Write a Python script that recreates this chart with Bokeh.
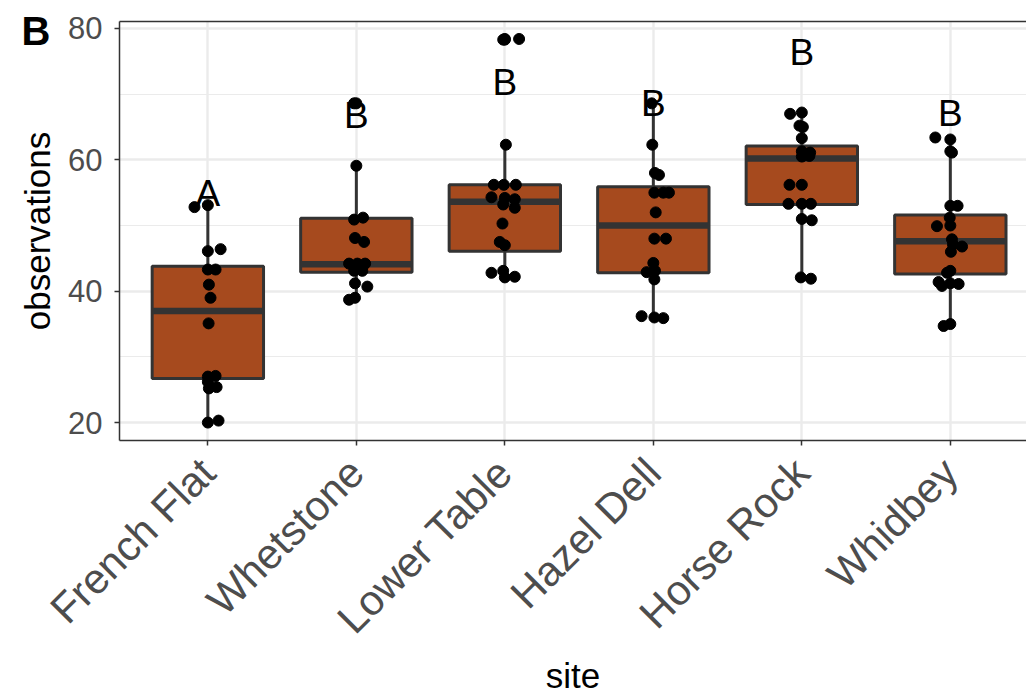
from math import pi

from bokeh.core.properties import value
from bokeh.embed import file_html
from bokeh.models import ColumnDataSource, FixedTicker, LinearAxis, Range1d
from bokeh.plotting import figure
from bokeh.resources import INLINE

# ---- data -------------------------------------------------------------
sites = ["French Flat", "Whetstone", "Lower Table", "Hazel Dell", "Horse Rock", "Whidbey"]

# boxplot summaries per site
whisker_low = [20.0, 38.7, 42.2, 36.0, 42.0, 34.8]
q1 = [26.7, 42.9, 46.1, 42.8, 53.2, 42.6]
median = [37.0, 44.1, 53.6, 50.0, 60.2, 47.6]
q3 = [43.8, 51.1, 56.2, 55.9, 62.1, 51.6]
whisker_high = [53.2, 59.1, 62.3, 68.6, 67.1, 63.2]

# outliers flagged by the boxplot (site index, value)
outlier_site = [2, 3, 3]
outlier_obs = [68.6, 78.3, 78.4]

# individual observations per site, with their horizontal jitter
obs_french_flat = [52.8, 53.1, 46.1, 46.4, 43.3, 43.3, 41.0, 39.0, 35.1, 27.0, 27.1, 26.2, 25.2, 25.4, 20.0, 20.3]
jit_french_flat = [-0.09, 0.0, 0.0, 0.086, 0.0, 0.052, 0.007, 0.018, 0.005, 0.0, 0.052, 0.0, 0.007, 0.059, 0.0, 0.072]

obs_whetstone = [68.6, 59.1, 50.9, 51.2, 48.1, 47.5, 44.2, 44.2, 44.2, 43.1, 43.1, 41.2, 40.7, 38.7, 39.0]
jit_whetstone = [-0.015, 0.0, -0.015, 0.045, -0.009, 0.052, -0.049, 0.007, 0.059, -0.015, 0.04, -0.009, 0.074, -0.049, -0.009]

obs_lower_table = [78.3, 78.4, 62.3, 56.2, 56.2, 56.2, 54.3, 54.2, 54.0, 53.2, 52.7, 50.3, 47.5, 47.0, 42.8, 43.1, 42.1, 42.2]
jit_lower_table = [-0.011, 0.096, 0.007, -0.074, -0.007, 0.074, -0.09, 0.0, 0.067, -0.011, 0.067, -0.016, -0.034, 0.0, -0.09, -0.011, 0.0, 0.067]

obs_hazel_dell = [68.6, 62.3, 58.0, 57.7, 55.0, 55.0, 55.0, 52.0, 48.0, 48.0, 44.3, 42.9, 43.1, 41.8, 36.2, 36.0, 35.9]
jit_hazel_dell = [-0.011, -0.007, 0.011, 0.038, 0.007, 0.067, 0.105, 0.016, 0.007, 0.085, 0.0, -0.045, 0.011, 0.007, -0.079, 0.007, 0.067]

obs_horse_rock = [67.0, 67.2, 65.2, 65.0, 63.3, 61.3, 61.1, 60.5, 60.6, 56.2, 56.2, 53.3, 53.3, 53.3, 51.0, 50.8, 42.1, 41.9]
jit_horse_rock = [-0.079, 0.0, -0.016, 0.007, 0.0, 0.0, 0.056, 0.0, 0.051, -0.083, 0.0, -0.09, 0.0, 0.061, 0.0, 0.067, -0.007, 0.061]

obs_whidbey = [63.4, 63.1, 61.3, 61.1, 53.0, 53.0, 51.2, 49.9, 50.0, 47.9, 47.1, 46.8, 46.0, 43.1, 42.8, 41.4, 40.8, 41.2, 41.1, 34.7, 35.0]
jit_whidbey = [-0.101, 0.0, 0.0, 0.011, 0.0, 0.049, -0.004, -0.09, 0.0, 0.011, 0.018, 0.079, 0.004, 0.0, -0.022, -0.079, -0.056, 0.0, 0.056, -0.045, 0.0]

# compact letter display (Tukey groups) and where each letter sits
group_letters = ["A", "B", "B", "B", "B", "B"]
letter_y = [54.8, 66.8, 71.8, 68.6, 76.3, 67.1]

y_ticks = [20, 40, 60, 80]
y_minor = [30, 50, 70]

# ---- styling ----------------------------------------------------------
FONT = "Liberation Sans"
BOX_FILL = "#A64A1E"
DARK = "#333333"
GRID = "#EBEBEB"
BOX_WIDTH = 0.75

x_pos = list(range(1, len(sites) + 1))

p = figure(
    width=1026, height=697,
    x_range=Range1d(0.405, 6.513), y_range=Range1d(17.27, 81.06),
    min_border_left=119, min_border_right=0, min_border_top=21, min_border_bottom=255,
    output_backend="svg", toolbar_location=None,
)
p.background_fill_color = "white"
p.border_fill_color = "white"
p.outline_line_color = None

# panel tag in the upper-left margin
p.title.text = "B"
p.title.align = "left"
p.title.vertical_align = "bottom"
p.title.offset = -98
p.title.standoff = -63
p.title.text_font = FONT
p.title.text_font_size = "40px"
p.title.text_font_style = "bold"
p.title.text_color = "black"

# grid
p.xgrid.ticker = FixedTicker(ticks=x_pos)
p.ygrid.ticker = FixedTicker(ticks=y_ticks, minor_ticks=y_minor)
for g in (p.xgrid, p.ygrid):
    g.grid_line_color = GRID
    g.grid_line_width = 2.4
p.ygrid.minor_grid_line_color = GRID
p.ygrid.minor_grid_line_width = 1.2

# axes
xa = p.xaxis[0]
xa.ticker = FixedTicker(ticks=x_pos)
xa.major_label_overrides = {i + 1: s for i, s in enumerate(sites)}
xa.major_label_orientation = pi / 4
xa.major_label_text_font = FONT
xa.major_label_text_font_size = "42px"
xa.major_label_text_color = "#4D4D4D"
xa.major_label_standoff = 20
xa.axis_label = "site"
xa.axis_label_text_font = FONT
xa.axis_label_text_font_size = "35px"
xa.axis_label_text_font_style = "normal"
xa.axis_label_text_color = "black"
xa.axis_label_standoff = -6

ya = p.yaxis[0]
ya.ticker = FixedTicker(ticks=y_ticks, minor_ticks=y_minor)
ya.major_label_text_font = FONT
ya.major_label_text_font_size = "31px"
ya.major_label_text_color = "#4D4D4D"
ya.major_label_standoff = 12
ya.axis_label = "observations"
ya.axis_label_text_font = FONT
ya.axis_label_text_font_size = "35px"
ya.axis_label_text_font_style = "normal"
ya.axis_label_text_color = "black"
ya.axis_label_standoff = 8

for ax in (xa, ya):
    ax.axis_line_color = DARK
    ax.axis_line_width = 1.5
    ax.major_tick_line_color = DARK
    ax.major_tick_line_width = 1.5
    ax.major_tick_out = 5
    ax.major_tick_in = 0
    ax.minor_tick_line_color = None

# top edge of the panel
top = LinearAxis(
    axis_line_color=DARK, axis_line_width=1.5,
    major_tick_line_color=None, minor_tick_line_color=None,
    major_tick_out=0, major_tick_in=0, major_label_standoff=0,
    major_label_text_font_size="0px", ticker=FixedTicker(ticks=[]),
)
p.add_layout(top, "above")

# ---- boxes --------------------------------------------------------------
box_src = ColumnDataSource(dict(
    x=x_pos, lo=whisker_low, q1=q1, med=median, q3=q3, hi=whisker_high,
    left=[x - BOX_WIDTH / 2 for x in x_pos], right=[x + BOX_WIDTH / 2 for x in x_pos],
))
p.segment(x0="x", y0="lo", x1="x", y1="q1", source=box_src, line_color=DARK, line_width=3)
p.segment(x0="x", y0="q3", x1="x", y1="hi", source=box_src, line_color=DARK, line_width=3)
p.vbar(x="x", width=BOX_WIDTH, bottom="q1", top="q3", source=box_src,
       fill_color=BOX_FILL, line_color=DARK, line_width=3)
p.segment(x0="left", y0="med", x1="right", y1="med", source=box_src,
          line_color=DARK, line_width=6.5)

p.scatter(x=outlier_site, y=outlier_obs, size=11, color="black")

# ---- jittered observations -----------------------------------------------
per_site_obs = [obs_french_flat, obs_whetstone, obs_lower_table, obs_hazel_dell, obs_horse_rock, obs_whidbey]
per_site_jit = [jit_french_flat, jit_whetstone, jit_lower_table, jit_hazel_dell, jit_horse_rock, jit_whidbey]
px, py = [], []
for x, obs, jit in zip(x_pos, per_site_obs, per_site_jit):
    px += [x + j for j in jit]
    py += obs
p.scatter(x=px, y=py, size=11, color="black")

# ---- group letters ---------------------------------------------------------
p.text(x=x_pos, y=letter_y, text=group_letters, text_font=value(FONT),
       text_font_size="37px", text_align="center", text_baseline="middle", text_color="black")

open("out.html", "w").write(file_html(p, INLINE))
